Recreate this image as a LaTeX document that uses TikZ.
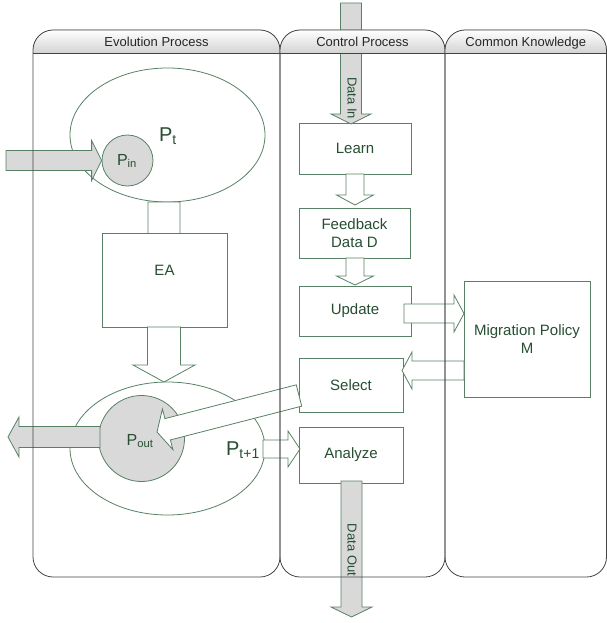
\documentclass[tikz,border=0pt]{standalone}
\usepackage{fontspec}
\setmainfont{Liberation Sans}
\usetikzlibrary{calc,shapes.geometric}
\definecolor{edge}{RGB}{88,128,100}
\definecolor{txt}{RGB}{38,78,50}
\definecolor{gfill}{RGB}{217,217,217}
\definecolor{laneline}{RGB}{68,68,68}
\definecolor{headgray}{RGB}{210,210,210}
\tikzset{
  arrowline/.style={draw=edge,line width=0.8pt,line join=miter},
  whitearrow/.style={fill=white},
  grayarrow/.style={fill=gfill},
  box/.style={draw=edge,line width=0.8pt,fill=white,inner sep=0pt,text=txt,
    font=\fontsize{15}{18}\selectfont,align=center},
  lbl/.style={text=txt,inner sep=0pt,align=center},
  laneedge/.style={draw=laneline,line width=0.8pt},
  headtxt/.style={text=black!85,inner sep=0pt,font=\fontsize{13}{15}\selectfont},
  popl/.style={draw=edge,line width=0.8pt,ellipse,inner sep=0pt},
}
\newcommand\fatarrow[6]{%
  \coordinate (fac) at ($(#3)!#6pt!(#2)$);
  \filldraw[arrowline,#1] ($(#2)!#4pt!90:(#3)$) -- ($(fac)!#4pt!90:(#3)$)
    -- ($(fac)!#5pt!90:(#3)$) -- (#3) -- ($(fac)!#5pt!-90:(#3)$)
    -- ($(fac)!#4pt!-90:(#3)$) -- ($(#2)!#4pt!-90:(#3)$) -- cycle;}
\newcommand\lanebox[4]{%
  \fill[top color=white,bottom color=headgray] (#1,53.5) -- (#1,50)
    .. controls (#1,39) and ({#1+9},30) .. ({#1+20},30) -- ({#2-20},30)
    .. controls ({#2-9},30) and (#2,39) .. (#2,50) -- (#2,53.5) -- cycle;
  \draw[laneedge] (#1,557) -- (#1,50)
    .. controls (#1,39) and ({#1+9},30) .. ({#1+20},30) -- ({#2-20},30)
    .. controls ({#2-9},30) and (#2,39) .. (#2,50) -- (#2,557)
    .. controls (#2,568) and ({#2-9},577) .. ({#2-20},577) -- ({#1+20},577)
    .. controls ({#1+9},577) and (#1,568) .. cycle;
  \draw[laneedge] (#1,53.5) -- (#2,53.5);
  \node[headtxt,anchor=base] (#4) at ({(#1+#2)/2},46.5) {#3};}
\begin{document}
\begin{tikzpicture}[x=1pt,y=-1pt]
\useasboundingbox (0,0) rectangle (606,623);

% populations
\node[popl,minimum width=195pt,minimum height=134pt] (pt) at (167.5,135) {};
\node[popl,minimum width=195pt,minimum height=133pt] (pt1) at (167.5,448.5) {};

% Pt -> EA (head hidden behind EA)
\coordinate (ptS) at (164,202);
\coordinate (ptE) at (164,262);
\fatarrow{whitearrow}{ptS}{ptE}{16}{30}{17}

% boxes
\node[box,minimum width=125pt,minimum height=94pt] (ea) at (164.5,280) {};
\node[lbl,font=\fontsize{15}{18}\selectfont] (eal) at (164.5,270) {EA};
\node[box,minimum width=112pt,minimum height=51pt] (learn) at (355,148.5) {Learn};
\node[box,minimum width=111pt,minimum height=50pt] (feed) at (354.5,233) {Feedback\\Data D};
\node[box,minimum width=112pt,minimum height=50pt] (update) at (355,311) {Update};
\node[box,minimum width=104pt,minimum height=54pt] (select) at (351,385) {Select};
\node[box,minimum width=104pt,minimum height=56pt] (analyze) at (351,455) {Analyze};
\node[box,minimum width=126pt,minimum height=116pt] (mig) at (527,339) {Migration Policy\\M};

% circles
\node[draw=edge,line width=0.8pt,fill=gfill,circle,minimum size=51pt,inner sep=0pt] (pin) at (127.5,160.5) {};
\node[draw=edge,line width=0.8pt,fill=gfill,circle,minimum size=86pt,inner sep=0pt] (pout) at (141.5,438.5) {};

% arrows
\coordinate (inS) at (6,160.5);
\fatarrow{grayarrow}{inS}{pin.west}{10}{20}{10}

\coordinate (eaS) at (164,327);
\coordinate (eaE) at (164,382);
\fatarrow{whitearrow}{eaS}{eaE}{16.5}{31}{17}

\coordinate (poS) at (100,437);
\coordinate (poE) at (8,437);
\fatarrow{grayarrow}{poS}{poE}{10.5}{20}{11}

\coordinate (selS) at (299,395.5);
\coordinate (selE) at (157,432);
\fatarrow{whitearrow}{selS}{selE}{11}{21}{11}

\coordinate (p1S) at (263,449);
\coordinate (p1E) at (300,449);
\fatarrow{whitearrow}{p1S}{p1E}{9}{18}{12}

\coordinate (diS) at (351,3);
\coordinate (diE) at (351,124);
\fatarrow{grayarrow}{diS}{diE}{10.5}{20}{10}

\coordinate (lfS) at (355,174);
\coordinate (lfE) at (355,205);
\fatarrow{whitearrow}{lfS}{lfE}{9}{18.5}{10}

\coordinate (fuS) at (355,258);
\coordinate (fuE) at (355,285);
\fatarrow{whitearrow}{fuS}{fuE}{9}{18.5}{9}

\coordinate (umS) at (404,313.5);
\coordinate (umE) at (464,313.5);
\fatarrow{whitearrow}{umS}{umE}{9.5}{18.5}{10}

\coordinate (msS) at (464,370.5);
\coordinate (msE) at (402,370.5);
\fatarrow{whitearrow}{msS}{msE}{9.5}{18.5}{10}

\coordinate (doS) at (351.5,481);
\coordinate (doE) at (351.5,617);
\fatarrow{grayarrow}{doS}{doE}{10.5}{20.5}{10}

% labels
\node[lbl] (ptl) at (168,136) {\fontsize{20}{22}\selectfont P\textsubscript{t}};
\node[lbl] (pinl) at (127,161) {\fontsize{16}{18}\selectfont P\textsubscript{in}};
\node[lbl] (poutl) at (140,441) {\fontsize{16}{18}\selectfont P\textsubscript{out}};
\node[lbl] (pt1l) at (243,450) {\fontsize{20}{22}\selectfont P\textsubscript{t+1}};
\node[lbl,rotate=-90,font=\fontsize{13}{15}\selectfont] (dinl) at (352,98) {Data In};
\node[lbl,rotate=-90,font=\fontsize{13}{15}\selectfont] (doutl) at (352,550) {Data Out};

% swimlanes
\lanebox{33}{280}{Evolution Process}{h1}
\lanebox{280}{445}{Control Process}{h2}
\lanebox{445}{606.5}{Common Knowledge}{h3}
\end{tikzpicture}
\end{document}
